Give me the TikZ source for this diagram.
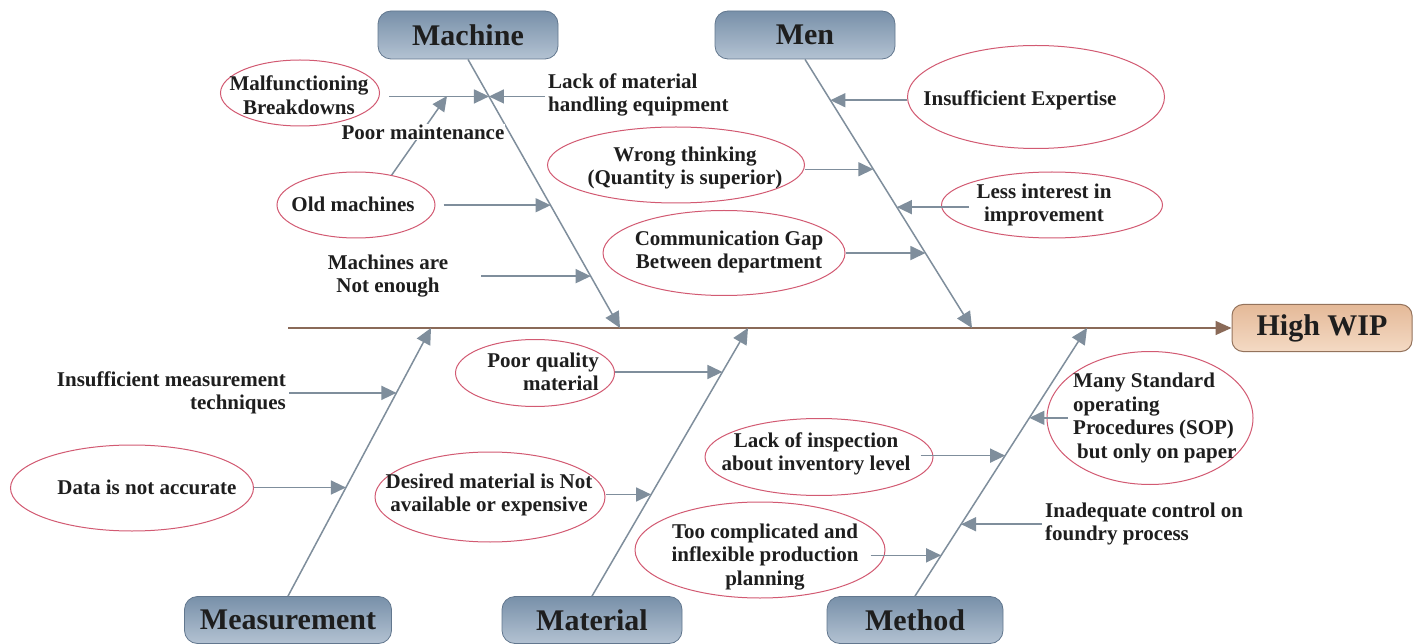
\documentclass[tikz,border=0pt]{standalone}
\usepackage{fontspec}
\setmainfont{Liberation Serif}
\usetikzlibrary{shapes.geometric,arrows.meta,calc}

\definecolor{bonegray}{HTML}{7F8E9C}
\definecolor{spinebrown}{HTML}{8A6A58}
\definecolor{ovalred}{HTML}{D25A72}
\definecolor{boxtop}{HTML}{7890A9}
\definecolor{boxbot}{HTML}{B3C2D2}
\definecolor{boxline}{HTML}{62778E}
\definecolor{wiptop}{HTML}{E4B998}
\definecolor{wipbot}{HTML}{F4DAC4}
\definecolor{wipline}{HTML}{94735C}
\definecolor{ink}{HTML}{1E1E1E}

\tikzset{
  category/.style={rounded corners=13pt, top color=boxtop, bottom color=boxbot,
    draw=boxline, line width=0.8pt, minimum width=180pt, minimum height=48pt,
    inner sep=0pt, font=\fontsize{30}{32}\selectfont\bfseries, text=ink},
  effectbox/.style={rounded corners=11pt, top color=wiptop, bottom color=wipbot,
    draw=wipline, line width=1pt, minimum width=180pt, minimum height=47pt,
    inner sep=0pt, font=\fontsize{30}{32}\selectfont\bfseries, text=ink},
  oval/.style={ellipse, draw=ovalred, fill=white, line width=1pt, inner sep=0pt},
  plain/.style={inner sep=3pt, font=\fontsize{21}{23.5}\selectfont\bfseries, text=ink, align=center},
  bone/.style={draw=bonegray, line width=1.5pt, -{Triangle[length=16pt,width=15pt]}},
  twig/.style={draw=bonegray, line width=1.5pt, -{Triangle[length=15pt,width=14pt]}},
  spine/.style={draw=spinebrown, line width=1.5pt, -{Triangle[length=16pt,width=14pt]}},
}

\begin{document}
\begin{tikzpicture}[x=1pt,y=-1pt]
\fill[white] (0,0) rectangle (1419,644);
\useasboundingbox (0,0) rectangle (1419,644);

% head of the fish
\node[effectbox] (wip) at (1322,328) {High WIP};
\coordinate (tail) at (288,328);
\draw[spine] (tail) -- (wip.west);

% category boxes
\node[category] (machine) at (468,35) {Machine};
\node[category] (men) at (805,35) {Men};
\node[category, minimum width=207pt, minimum height=47pt] (meas) at (288,620) {Measurement};
\node[category, minimum height=47pt] (mat) at (592,620) {Material};
\node[category, minimum width=176pt, minimum height=47pt] (meth) at (915,620) {Method};

% where the bones meet the spine
\coordinate (jMachine) at (620,328);
\coordinate (jMen) at (972,328);
\coordinate (jMeas) at (431,328);
\coordinate (jMat) at (748,328);
\coordinate (jMeth) at (1087,328);

\draw[bone] (machine.south) -- (jMachine);
\draw[bone] (men.south) -- (jMen);
\draw[bone] (meas.north) -- (jMeas);
\draw[bone] (mat.north) -- (jMat);
\draw[bone] (meth.north) -- (jMeth);

% points on the bones
\coordinate (k1) at ($(machine.south)!0.138!(jMachine)$);
\coordinate (k2) at ($(machine.south)!0.543!(jMachine)$);
\coordinate (k3) at ($(machine.south)!0.807!(jMachine)$);
\coordinate (n1) at ($(men.south)!0.152!(jMen)$);
\coordinate (n2) at ($(men.south)!0.409!(jMen)$);
\coordinate (n3) at ($(men.south)!0.550!(jMen)$);
\coordinate (n4) at ($(men.south)!0.721!(jMen)$);
\coordinate (s1) at ($(meas.north)!0.758!(jMeas)$);
\coordinate (s2) at ($(meas.north)!0.405!(jMeas)$);
\coordinate (t1) at ($(mat.north)!0.836!(jMat)$);
\coordinate (t2) at ($(mat.north)!0.379!(jMat)$);
\coordinate (h1) at ($(meth.north)!0.665!(jMeth)$);
\coordinate (h2) at ($(meth.north)!0.524!(jMeth)$);
\coordinate (h3) at ($(meth.north)!0.268!(jMeth)$);
\coordinate (h4) at ($(meth.north)!0.152!(jMeth)$);

% Machine causes
\node[oval, minimum width=159pt, minimum height=66pt] (mal) at (300,93) {};
\node[plain] (malt) at (299,95) {Malfunctioning\\Breakdowns};
\node[plain, align=left, anchor=west] (lack) at (545,95) {Lack of material\\handling equipment};
\node[oval, minimum width=158pt, minimum height=66pt] (oldm) at (356,205) {};
\node[plain] (oldmt) at (353,204) {Old machines};
\node[plain] (nen) at (388,276) {Machines are\\Not enough};
\coordinate (pmTip) at (447,96);

\draw[twig] ([xshift=9pt]mal.east |- k1) -- (k1);
\draw[twig] (lack.west |- k1) -- (k1);
\draw[twig] ([xshift=8pt]oldm.east |- k2) -- (k2);
\draw[twig] ([xshift=30pt]nen.east |- k3) -- (k3);
\draw[twig] (oldm.40) -- (pmTip);
\node[plain, fill=white, inner sep=1pt] (pm) at (423,132) {Poor maintenance};

% Men causes
\node[oval, minimum width=257pt, minimum height=103pt] (exp) at (1036,97) {};
\node[plain] (expt) at (1020,100) {Insufficient Expertise};
\node[oval, minimum width=257pt, minimum height=76pt] (wt) at (676,165) {};
\node[plain] (wtt) at (685,168) {Wrong thinking\\(Quantity is superior)};
\node[oval, minimum width=221pt, minimum height=66pt] (less) at (1052,205) {};
\node[plain] (lesst) at (1044,205) {Less interest in\\improvement};
\node[oval, minimum width=242pt, minimum height=85pt] (com) at (724,253) {};
\node[plain] (comt) at (729,252) {Communication Gap\\Between department};

\draw[twig] (exp.west |- n1) -- (n1);
\draw[twig] (wt.east |- n2) -- (n2);
\draw[twig] ([xshift=28pt]less.west |- n3) -- (n3);
\draw[twig] (com.east |- n4) -- (n4);

% Measurement causes
\node[plain, align=right, anchor=east] (ims) at (289,393) {Insufficient measurement\\techniques};
\node[oval, minimum width=243pt, minimum height=86pt] (data) at (132,488) {};
\node[plain] (datat) at (147,487) {Data is not accurate};

\draw[twig] (ims.east |- s1) -- (s1);
\draw[twig] (data.east |- s2) -- (s2);

% Material causes
\node[oval, minimum width=159pt, minimum height=67pt] (pq) at (535,373) {};
\node[plain, align=right, anchor=east] (pqt) at (602,372) {Poor quality\\material};
\node[oval, minimum width=230pt, minimum height=90pt] (des) at (490,497) {};
\node[plain] (dest) at (489,495) {Desired material is Not\\available or expensive};

\draw[twig] (pq.east |- t1) -- (t1);
\draw[twig] (des.east |- t2) -- (t2);

% Method causes
\node[oval, minimum width=206pt, minimum height=133pt] (sop) at (1150,418) {};
\node[plain, align=left, anchor=west] (sopt) at (1070,418) {Many Standard\\operating\\Procedures (SOP)\\\hspace{4pt}but only on paper};
\node[oval, minimum width=228pt, minimum height=77pt] (lin) at (819,457) {};
\node[plain] (lint) at (816,454) {Lack of inspection\\about inventory level};
\node[plain, align=left, anchor=west] (ina) at (1042,524) {Inadequate control on\\foundry process};
\node[oval, minimum width=250pt, minimum height=96pt] (tcp) at (760,550) {};
\node[plain] (tcpt) at (765,557) {Too complicated and\\inflexible production\\planning};

\draw[twig] ([xshift=21pt]sop.west |- h1) -- (h1);
\draw[twig] ([xshift=-13pt]lin.east |- h2) -- (h2);
\draw[twig] (ina.west |- h3) -- (h3);
\draw[twig] ([xshift=-15pt]tcp.east |- h4) -- (h4);
\end{tikzpicture}
\end{document}
